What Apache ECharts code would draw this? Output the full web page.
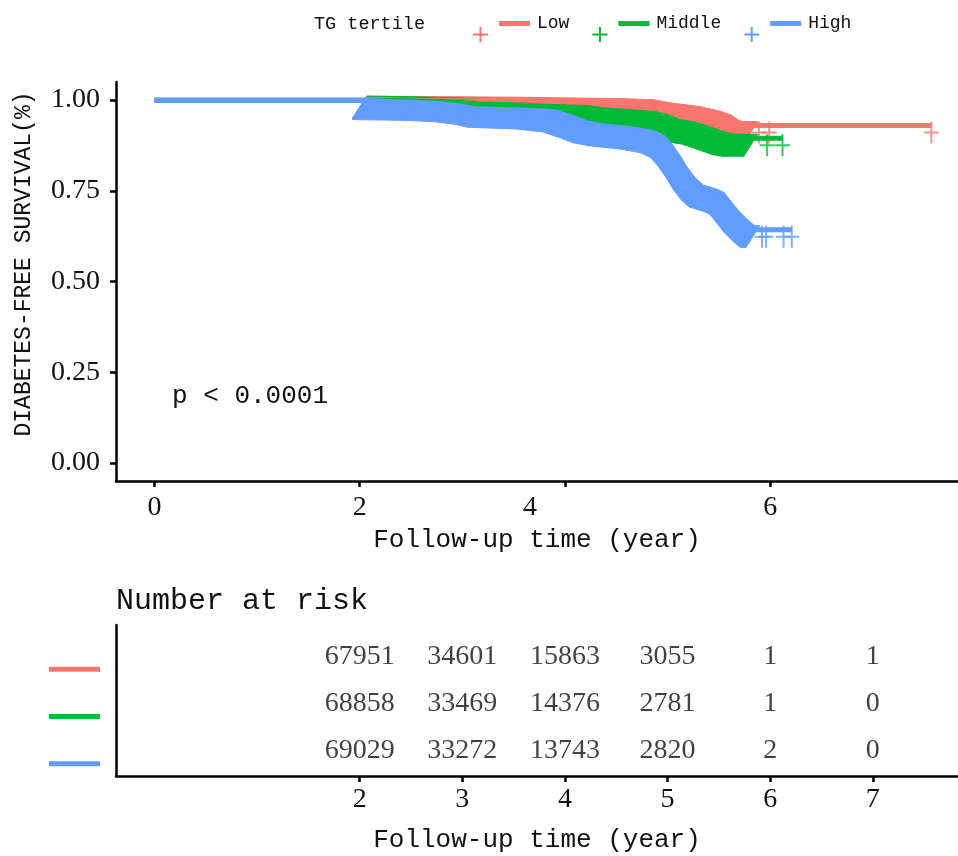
<!DOCTYPE html>
<html>
<head>
<meta charset="utf-8">
<script src="https://cdn.jsdelivr.net/npm/echarts@6/dist/echarts.min.js"></script>
<style>
html, body { margin: 0; padding: 0; background: #fff; }
#chart { width: 958px; height: 856px; }
</style>
</head>
<body>
<div id="chart"></div>
<script>
// 生存曲线 [时间(年), 生存率]
var lowCurve = [[0, 1], [2, 1], [2.5, 0.999], [3, 0.998], [3.5, 0.997], [4, 0.995], [4.5, 0.993], [4.8, 0.99], [4.95, 0.982], [5.05, 0.978], [5.25, 0.971], [5.45, 0.958], [5.55, 0.948], [5.62, 0.934], [5.66, 0.93], [7.57, 0.93]];
var middleCurve = [[0, 1], [2, 1], [2.5, 0.998], [3, 0.994], [3.15, 0.99], [3.5, 0.987], [4, 0.981], [4.3, 0.968], [4.6, 0.962], [4.8, 0.958], [4.95, 0.948], [5.05, 0.935], [5.2, 0.929], [5.35, 0.915], [5.5, 0.9], [5.6, 0.895], [6.12, 0.895]];
var highCurve = [[0, 1], [2, 1], [2, 0.996], [2.5, 0.994], [2.8, 0.99], [3, 0.983], [3.12, 0.975], [3.6, 0.97], [3.85, 0.962], [4, 0.948], [4.15, 0.932], [4.3, 0.924], [4.6, 0.915], [4.8, 0.905], [4.9, 0.892], [4.97, 0.87], [5.05, 0.838], [5.12, 0.805], [5.2, 0.775], [5.28, 0.755], [5.4, 0.745], [5.48, 0.735], [5.55, 0.71], [5.62, 0.685], [5.7, 0.662], [5.77, 0.645], [5.8, 0.643], [6.21, 0.643]];

// 删失标记密集的时间段
var lowDense = [2, 5.81];
var middleDense = [2, 5.81];
var highDense = [2, 5.83];

// 单独可见的删失标记
var lowCensor = [[5.89, 0.93], [5.99, 0.93], [7.57, 0.93]];
var middleCensor = [[5.97, 0.895], [6.12, 0.895]];
var highCensor = [[5.92, 0.643], [5.96, 0.643], [6.13, 0.643], [6.21, 0.643]];

// 风险人数表
var groupNames = ['Low', 'Middle', 'High'];
var riskTimes = [2, 3, 4, 5, 6, 7];
var riskLow = [67951, 34601, 15863, 3055, 1, 1];
var riskMiddle = [68858, 33469, 14376, 2781, 1, 0];
var riskHigh = [69029, 33272, 13743, 2820, 2, 0];

// 刻度
var survTicks = [0, 0.25, 0.5, 0.75, 1];
var timeTicks = [0, 2, 4, 6];

var FONT = "'Liberation Mono', monospace";
var NUM_FONT = "'Liberation Serif', serif";
var TEXT = '#111';
var COLORS = ['#F8766D', '#00BA38', '#619CFF'];
var PLUS = 'path://M6.5,0H8.5V22H6.5Z M0,10H15V12H0Z';
// 图例：十字 + 线段（顶部的极小点只用来让图标上下对称）
var LEGEND_ICON = 'path://M28,-14H28.01V-13.99H28Z M26,2H57V7H26Z M6.5,8H8.5V23H6.5Z M0,14.5H15V16.5H0Z';

// 取密集段的点
function densePoints (curve, range) {
    var pts = curve.filter(function (p) { return p[0] >= range[0] && p[0] <= range[1]; });
    var last = curve.filter(function (p) { return p[0] <= range[1]; }).pop();
    pts.push([range[1], last[1]]);
    return pts;
}

// 删失标记带
function bandRender (points, color) {
    return function (params, api) {
        var i = params.dataIndex;
        if (i >= points.length - 1) return null;
        var a = api.coord([api.value(0), api.value(1)]);
        var b = api.coord(points[i + 1]);
        return {
            type: 'polygon',
            shape: {
                points: [[a[0] + 7, a[1] - 4], [b[0] + 7, b[1] - 4], [b[0] - 7, b[1] + 18], [a[0] - 7, a[1] + 18]]
            },
            style: { fill: color, stroke: color, lineWidth: 1 }
        };
    };
}

function groupSeries (name, curve, dense, censor, color) {
    var band = densePoints(curve, dense);
    return [
        {
            name: name, type: 'line', data: curve, symbol: 'none',
            xAxisIndex: 0, yAxisIndex: 0,
            lineStyle: { color: color, width: 5 }, itemStyle: { color: color }
        },
        {
            name: name + ' censor band', type: 'custom', data: band,
            xAxisIndex: 0, yAxisIndex: 0, encode: { x: 0, y: 1 },
            renderItem: bandRender(band, color)
        },
        {
            name: name + ' censor', type: 'scatter', data: censor,
            xAxisIndex: 0, yAxisIndex: 0,
            symbol: PLUS, symbolSize: [15, 22], symbolOffset: [0, 7],
            itemStyle: { color: color }
        }
    ];
}

function riskSeries (counts, row) {
    return {
        type: 'scatter', xAxisIndex: 1, yAxisIndex: 1, symbolSize: 0,
        data: riskTimes.map(function (t, i) { return [t, row, counts[i]]; }),
        label: {
            show: true, position: 'inside', offset: [0, 3],
            formatter: function (p) { return p.value[2]; },
            fontSize: 28, fontFamily: NUM_FONT, color: TEXT
        }
    };
}

var axisLineStyle = { color: '#000', width: 2.5 };

var series = []
    .concat(groupSeries('Low', lowCurve, lowDense, lowCensor, COLORS[0]))
    .concat(groupSeries('Middle', middleCurve, middleDense, middleCensor, COLORS[1]))
    .concat(groupSeries('High', highCurve, highDense, highCensor, COLORS[2]));
series.push(riskSeries(riskLow, 3), riskSeries(riskMiddle, 2), riskSeries(riskHigh, 1));

var option = {
    animation: false,
    backgroundColor: '#fff',
    title: {
        text: 'TG tertile', left: 314, top: 15, padding: 0,
        textStyle: { fontSize: 18.5, fontWeight: 'normal', fontFamily: FONT, color: TEXT }
    },
    legend: {
        left: 473, top: 5, padding: 0, itemWidth: 57, itemHeight: 37, itemGap: 23,
        selectedMode: false,
        textStyle: { fontSize: 18, fontFamily: FONT, color: TEXT, padding: [0, 0, 0, 2] },
        data: groupNames.map(function (n) { return { name: n, icon: LEGEND_ICON }; })
    },
    grid: [
        { left: 116, right: 0, top: 82, height: 399 },
        { left: 116, right: 0, top: 625, height: 151 }
    ],
    xAxis: [
        {
            type: 'value', gridIndex: 0, min: -0.375, max: 7.83,
            axisLine: { onZero: false, lineStyle: axisLineStyle },
            axisTick: { customValues: timeTicks, length: 6, lineStyle: axisLineStyle },
            axisLabel: {
                customValues: timeTicks, margin: 13, fontSize: 28, fontFamily: NUM_FONT, color: TEXT,
                formatter: function (v) { return v === 4 ? '{s|4}' : String(v); },
                rich: { s: { fontSize: 28, fontFamily: NUM_FONT, color: TEXT, padding: [0, 70, 0, 0] } }
            },
            splitLine: { show: false },
            name: 'Follow-up time (year)', nameLocation: 'middle', nameGap: 46,
            nameTextStyle: { fontSize: 26, fontFamily: FONT, color: TEXT }
        },
        {
            type: 'value', gridIndex: 1, min: -0.375, max: 7.83,
            axisLine: { onZero: false, lineStyle: axisLineStyle },
            axisTick: { customValues: riskTimes, length: 6, lineStyle: axisLineStyle },
            axisLabel: { customValues: riskTimes, margin: 10, fontSize: 28, fontFamily: NUM_FONT, color: TEXT },
            splitLine: { show: false },
            name: 'Follow-up time (year)', nameLocation: 'middle', nameGap: 51,
            nameTextStyle: { fontSize: 26, fontFamily: FONT, color: TEXT }
        }
    ],
    yAxis: [
        {
            type: 'value', gridIndex: 0, min: -0.05, max: 1.05,
            axisLine: { show: true, onZero: false, lineStyle: axisLineStyle },
            axisTick: { show: true, customValues: survTicks, length: 6, lineStyle: axisLineStyle },
            axisLabel: {
                customValues: survTicks, margin: 16, fontSize: 28, fontFamily: NUM_FONT, color: TEXT,
                formatter: function (v) { return v.toFixed(2); }
            },
            splitLine: { show: false }
        },
        {
            type: 'value', gridIndex: 1, min: 0.4, max: 3.6,
            axisLine: { show: true, onZero: false, lineStyle: axisLineStyle },
            axisTick: { show: false },
            axisLabel: {
                customValues: [1, 2, 3], margin: 16, padding: [32, 0, 0, 0],
                formatter: function (v) { return '{c' + v + '| }'; },
                rich: {
                    c1: { width: 51, height: 5, lineHeight: 5, fontSize: 5, backgroundColor: COLORS[2] },
                    c2: { width: 51, height: 5, lineHeight: 5, fontSize: 5, backgroundColor: COLORS[1] },
                    c3: { width: 51, height: 5, lineHeight: 5, fontSize: 5, backgroundColor: COLORS[0] }
                }
            },
            splitLine: { show: false }
        }
    ],
    graphic: [
        {
            type: 'text', x: 24, y: 264, rotation: Math.PI / 2,
            style: {
                text: 'DIABETES-FREE SURVIVAL(%)', font: '23px ' + FONT, fill: TEXT,
                align: 'center', verticalAlign: 'middle', textAlign: 'center', textVerticalAlign: 'middle'
            }
        },
        {
            type: 'text', x: 172, y: 396,
            style: {
                text: 'p < 0.0001', font: '26px ' + FONT, fill: TEXT,
                align: 'left', verticalAlign: 'middle', textAlign: 'left', textVerticalAlign: 'middle'
            }
        },
        {
            type: 'text', x: 116, y: 601,
            style: {
                text: 'Number at risk', font: '30px ' + FONT, fill: TEXT,
                align: 'left', verticalAlign: 'middle', textAlign: 'left', textVerticalAlign: 'middle'
            }
        }
    ],
    series: series
};

var chart = echarts.init(document.getElementById('chart'));
chart.setOption(option);
</script>
</body>
</html>
